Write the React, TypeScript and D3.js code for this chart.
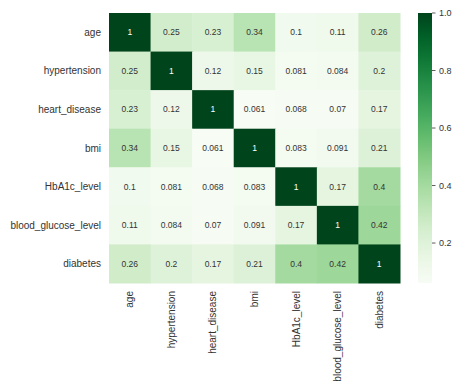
import React from "react";
import * as d3 from "d3";

// Correlation matrix of the diabetes dataset features
const labels = [
  "age",
  "hypertension",
  "heart_disease",
  "bmi",
  "HbA1c_level",
  "blood_glucose_level",
  "diabetes",
];

const rowAge = [1, 0.25, 0.23, 0.34, 0.1, 0.11, 0.26];
const rowHypertension = [0.25, 1, 0.12, 0.15, 0.081, 0.084, 0.2];
const rowHeartDisease = [0.23, 0.12, 1, 0.061, 0.068, 0.07, 0.17];
const rowBmi = [0.34, 0.15, 0.061, 1, 0.083, 0.091, 0.21];
const rowHbA1c = [0.1, 0.081, 0.068, 0.083, 1, 0.17, 0.4];
const rowGlucose = [0.11, 0.084, 0.07, 0.091, 0.17, 1, 0.42];
const rowDiabetes = [0.26, 0.2, 0.17, 0.21, 0.4, 0.42, 1];

const matrix = [rowAge, rowHypertension, rowHeartDisease, rowBmi, rowHbA1c, rowGlucose, rowDiabetes];

const colorbarTicks = [0.2, 0.4, 0.6, 0.8, 1.0];

const W = 452;
const H = 382;
const left = 109;
const right = 400;
const top = 13;
const bottom = 283;
const cbX = 418;
const cbW = 14;

export default function App() {
  const vmin = d3.min(matrix.flat()) as number;
  const vmax = d3.max(matrix.flat()) as number;
  const color = d3.scaleSequential(d3.interpolateGreens).domain([vmin, vmax]);

  const x = d3.scaleBand<string>().domain(labels).range([left, right]);
  const y = d3.scaleBand<string>().domain(labels).range([top, bottom]);
  const cb = d3.scaleLinear().domain([vmin, vmax]).range([bottom, top]);

  const stops = d3.range(0, 1.0001, 0.05);
  const font = "'Liberation Sans', Arial, sans-serif";

  return (
    <svg
      width={W}
      height={H}
      style={{ position: "absolute", left: 0, top: 0, background: "#fff" }}
      fontFamily={font}
    >
      <defs>
        <linearGradient id="cbar" x1="0" y1="1" x2="0" y2="0">
          {stops.map((t) => (
            <stop key={t} offset={t} stopColor={color(vmin + t * (vmax - vmin))} />
          ))}
        </linearGradient>
      </defs>

      {matrix.map((row, i) =>
        row.map((v, j) => {
          const cx = x(labels[j])! + x.bandwidth() / 2;
          const cy = y(labels[i])! + y.bandwidth() / 2;
          const c = d3.hsl(color(v));
          return (
            <g key={`${i}-${j}`}>
              <rect
                x={x(labels[j])}
                y={y(labels[i])}
                width={x.bandwidth() + 0.5}
                height={y.bandwidth() + 0.5}
                fill={color(v)}
              />
              <text
                x={cx}
                y={cy}
                dy="0.35em"
                textAnchor="middle"
                fontSize={8.5}
                fill={c.l < 0.5 ? "#ffffff" : "#333333"}
              >
                {String(v)}
              </text>
            </g>
          );
        })
      )}

      {labels.map((l) => (
        <text
          key={`y-${l}`}
          x={left - 8}
          y={y(l)! + y.bandwidth() / 2}
          dy="0.35em"
          textAnchor="end"
          fontSize={10}
          fill="#333333"
        >
          {l}
        </text>
      ))}

      {labels.map((l) => (
        <text
          key={`x-${l}`}
          transform={`translate(${x(l)! + x.bandwidth() / 2},${bottom + 8}) rotate(-90)`}
          dy="0.35em"
          textAnchor="end"
          fontSize={10}
          fill="#333333"
        >
          {l}
        </text>
      ))}

      <rect x={cbX} y={top} width={cbW} height={bottom - top} fill="url(#cbar)" />
      {colorbarTicks.map((t) => (
        <g key={`cb-${t}`}>
          <line x1={cbX + cbW} x2={cbX + cbW + 3.5} y1={cb(t)} y2={cb(t)} stroke="#333333" strokeWidth={0.8} />
          <text x={cbX + cbW + 7} y={cb(t)} dy="0.35em" fontSize={9} fill="#333333">
            {t.toFixed(1)}
          </text>
        </g>
      ))}
    </svg>
  );
}
